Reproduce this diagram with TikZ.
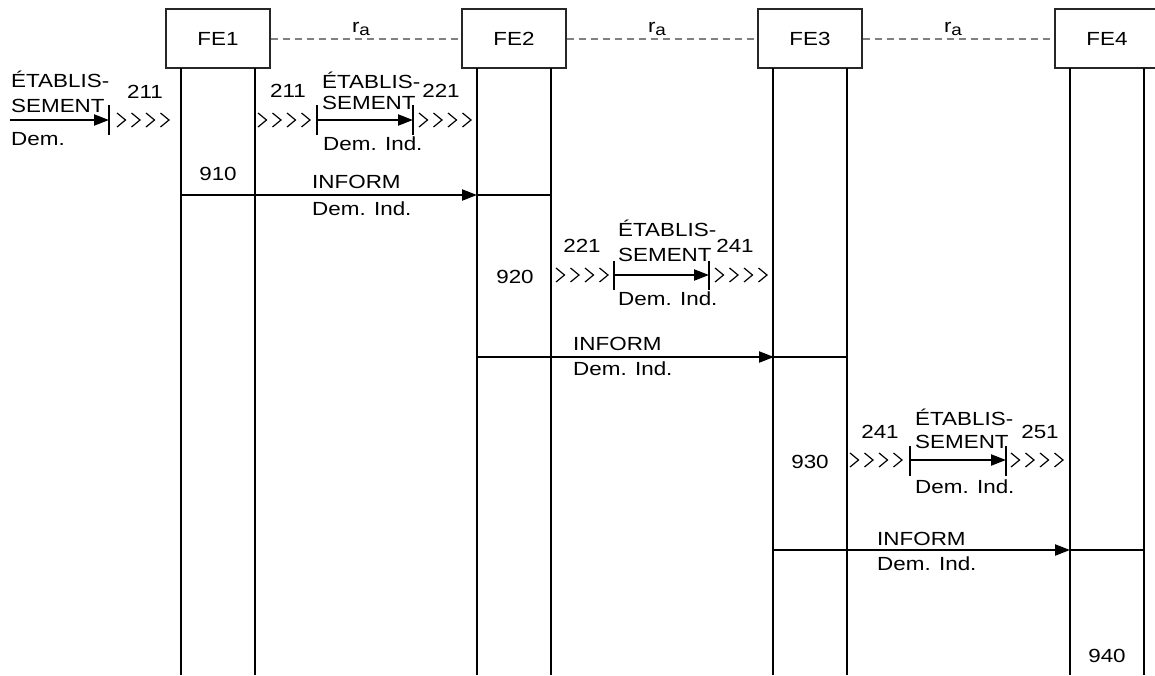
\documentclass[tikz,border=0pt]{standalone}
\usepackage{fontspec}
\setmainfont[FakeStretch=1.18]{Liberation Sans}
\usetikzlibrary{arrows.meta}
\begin{document}
\begin{tikzpicture}[x=1pt,y=-1pt,
  lbl/.style={font=\fontsize{19}{22}\selectfont, inner sep=0pt, anchor=base west},
  num/.style={font=\fontsize{19}{22}\selectfont, inner sep=0pt, anchor=base},
  fe/.style={draw=black!85, line width=1.3pt, minimum width=104pt, minimum height=59pt, inner sep=0pt, font=\fontsize{19}{22}\selectfont},
  life/.style={line width=2.3pt},
  msg/.style={line width=2.2pt, -{Triangle[length=15pt,width=11pt]}},
  plain/.style={line width=2.2pt},
  barline/.style={line width=2.2pt},
  link/.style={draw=gray, line width=2pt, dash pattern=on 7.5pt off 4.5pt},
  chevs/.pic={\foreach \i in {0,1,2,3} \draw[line width=1.2pt] (\i*14.5,-7) -- (\i*14.5+8.5,0) -- (\i*14.5,7);}
]
\useasboundingbox (0,0) rectangle (1155,675);
\clip (0,0) rectangle (1155,675);

% entities
\node[fe] (fe1) at (218,38.5) {FE1};
\node[fe] (fe2) at (514,38.5) {FE2};
\node[fe] (fe3) at (810,38.5) {FE3};
\node[fe] (fe4) at (1107,38.5) {FE4};

\foreach \n/\x in {1/166,2/462,3/758,4/1055} {
  \coordinate (L\n) at (\x+15,68); \coordinate (R\n) at (\x+89,68);
  \coordinate (L\n b) at (\x+15,675); \coordinate (R\n b) at (\x+89,675);
  \draw[life] (L\n) -- (L\n b);
  \draw[life] (R\n) -- (R\n b);
}

% ra links
\draw[link] (fe1.east) -- (fe2.west);
\draw[link] (fe2.east) -- (fe3.west);
\draw[link] (fe3.east) -- (fe4.west);
\node[num] (ra1) at (361,32) {r\raisebox{-3.5pt}{\fontsize{16}{16}\selectfont a}};
\node[num] (ra2) at (657,32) {r\raisebox{-3.5pt}{\fontsize{16}{16}\selectfont a}};
\node[num] (ra3) at (953,32) {r\raisebox{-3.5pt}{\fontsize{16}{16}\selectfont a}};

% ---- row 1 : incoming request
\coordinate (s0) at (10,120);
\coordinate (b0) at (109,120);
\draw[msg] (s0) -- (b0);
\draw[barline] (109,105) -- (109,135);
\node[lbl] (t0a) at (11,87) {ÉTABLIS-};
\node[lbl] (t0b) at (11,112) {SEMENT};
\node[lbl] (t0c) at (11,145) {Dem.};
\node[num] (n0) at (145,98) {211};
\pic at (117,120) {chevs};

% ---- row 1 : FE1 -> FE2
\coordinate (p1) at (317,120);
\coordinate (q1) at (413,120);
\draw[msg] (p1) -- (q1);
\draw[barline] (317,105) -- (317,135);
\draw[barline] (413,105) -- (413,135);
\pic at (258,120) {chevs};
\pic at (419,120) {chevs};
\node[num] (n1a) at (288,97) {211};
\node[num] (n1b) at (441,97) {221};
\node[lbl] (t1a) at (322,88) {ÉTABLIS-};
\node[lbl] (t1b) at (322,109) {SEMENT};
\node[lbl] (t1c) at (323,150) {Dem. Ind.};

\node[num] (n910) at (218,180) {910};
\coordinate (i1s) at (181,195);
\coordinate (i1e) at (477,195);
\coordinate (i1r) at (551,195);
\draw[msg] (i1s) -- (i1e);
\draw[plain] (i1e) -- (i1r);
\node[lbl] (i1a) at (312,188) {INFORM};
\node[lbl] (i1b) at (312,215) {Dem. Ind.};

% ---- row 2 : FE2 -> FE3
\node[num] (n920) at (515,283) {920};
\coordinate (p2) at (614,275);
\coordinate (q2) at (709,275);
\draw[msg] (p2) -- (q2);
\draw[barline] (614,261) -- (614,290);
\draw[barline] (709,261) -- (709,290);
\pic at (556,275) {chevs};
\pic at (715,275) {chevs};
\node[num] (n2a) at (582,252) {221};
\node[num] (n2b) at (735,252) {241};
\node[lbl] (t2a) at (618,236) {ÉTABLIS-};
\node[lbl] (t2b) at (618,261) {SEMENT};
\node[lbl] (t2c) at (618,305) {Dem. Ind.};

\coordinate (i2s) at (477,357);
\coordinate (i2e) at (774,357);
\coordinate (i2r) at (847,357);
\draw[msg] (i2s) -- (i2e);
\draw[plain] (i2e) -- (i2r);
\node[lbl] (i2a) at (573,350) {INFORM};
\node[lbl] (i2b) at (573,375) {Dem. Ind.};

% ---- row 3 : FE3 -> FE4
\node[num] (n930) at (810,468) {930};
\coordinate (p3) at (910,460);
\coordinate (q3) at (1006,460);
\draw[msg] (p3) -- (q3);
\draw[barline] (910,446) -- (910,476);
\draw[barline] (1006,446) -- (1006,476);
\pic at (850,460) {chevs};
\pic at (1011,460) {chevs};
\node[num] (n3a) at (880,438) {241};
\node[num] (n3b) at (1040,438) {251};
\node[lbl] (t3a) at (915,425) {ÉTABLIS-};
\node[lbl] (t3b) at (915,448) {SEMENT};
\node[lbl] (t3c) at (915,493) {Dem. Ind.};

\coordinate (i3s) at (774,550);
\coordinate (i3e) at (1070,550);
\coordinate (i3r) at (1144,550);
\draw[msg] (i3s) -- (i3e);
\draw[plain] (i3e) -- (i3r);
\node[lbl] (i3a) at (877,545) {INFORM};
\node[lbl] (i3b) at (877,570) {Dem. Ind.};

\node[num] (n940) at (1107,662) {940};
\end{tikzpicture}
\end{document}
